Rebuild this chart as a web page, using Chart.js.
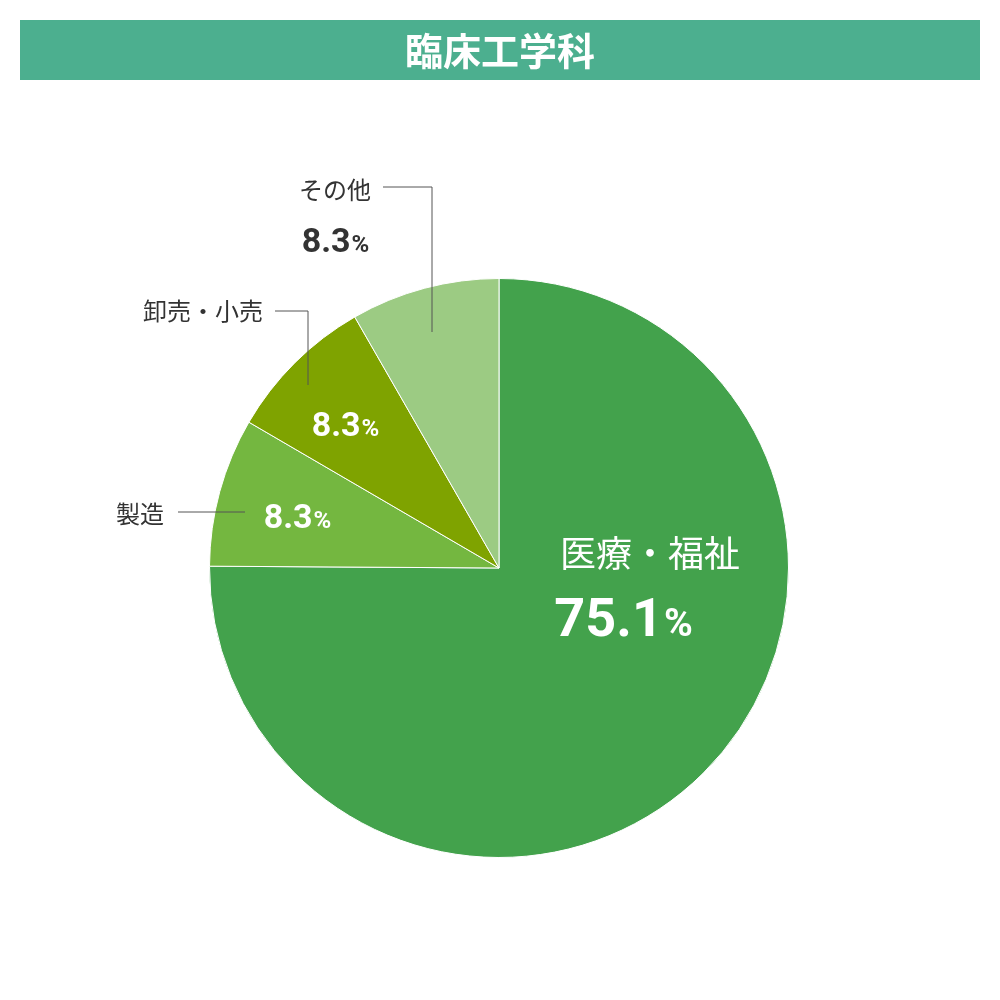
<!DOCTYPE html>
<html>
<head>
<meta charset="utf-8">
<script src="https://cdn.jsdelivr.net/npm/chart.js@4/dist/chart.umd.min.js"></script>
<style>
  body { margin: 0; background: #fff; }
</style>
</head>
<body>
<canvas id="c" width="1000" height="1000"></canvas>
<script>
const title = "臨床工学科"
const categories = ["医療・福祉", "製造", "卸売・小売", "その他"]
const values = [75.1, 8.3, 8.3, 8.3]
const colors = ["#43a24c", "#74b740", "#7fa300", "#9ccb83"]

const jp = '"Noto Sans CJK JP", sans-serif'

function pct(ctx, text, x, y, size, color) {
    ctx.fillStyle = color
    ctx.textAlign = "left"
    ctx.textBaseline = "alphabetic"
    ctx.font = "bold " + size + "px Roboto, sans-serif"
    const w = ctx.measureText(text).width
    ctx.font = "bold " + Math.round(size * 0.72) + "px Roboto, sans-serif"
    const pw = ctx.measureText("%").width
    const start = x - (w + pw) / 2
    ctx.font = "bold " + size + "px Roboto, sans-serif"
    ctx.fillText(text, start, y)
    ctx.font = "bold " + Math.round(size * 0.72) + "px Roboto, sans-serif"
    ctx.fillText("%", start + w + 1, y)
}

function label(ctx, text, x, y, size, color) {
    ctx.fillStyle = color
    ctx.font = size + "px " + jp
    ctx.textAlign = "center"
    ctx.textBaseline = "middle"
    ctx.fillText(text, x, y)
}

function line(ctx, pts) {
    ctx.strokeStyle = "#555"
    ctx.lineWidth = 1
    ctx.beginPath()
    ctx.moveTo(pts[0][0], pts[0][1])
    for (const p of pts.slice(1)) ctx.lineTo(p[0], p[1])
    ctx.stroke()
}

const decor = {
    id: "decor",
    afterDraw(chart) {
        const ctx = chart.ctx
        ctx.save()
        ctx.fillStyle = "#4caf8f"
        ctx.fillRect(20, 20, 960, 60)
        ctx.fillStyle = "#fff"
        ctx.font = "bold 38px " + jp
        ctx.textAlign = "center"
        ctx.textBaseline = "middle"
        ctx.fillText(title, 500, 51)

        const v = values.map(n => n.toFixed(1))
        label(ctx, categories[0], 650, 553, 36, "#fff")
        pct(ctx, v[0], 623, 636, 54, "#fff")

        label(ctx, categories[1], 140, 514, 24, "#333")
        line(ctx, [[178, 512], [245, 512]])
        pct(ctx, v[1], 297, 528, 34, "#fff")

        label(ctx, categories[2], 203, 311, 24, "#333")
        line(ctx, [[275, 311], [308, 311], [308, 385]])
        pct(ctx, v[2], 345, 436, 34, "#fff")

        label(ctx, categories[3], 335, 190, 24, "#333")
        line(ctx, [[383, 187], [432, 187], [432, 332]])
        pct(ctx, v[3], 335, 252, 34, "#333")
        ctx.restore()
    }
}

new Chart(document.getElementById("c"), {
    type: "pie",
    data: {
        labels: categories,
        datasets: [{
            data: values,
            backgroundColor: colors,
            borderColor: "#fff",
            borderWidth: 1
        }]
    },
    options: {
        responsive: false,
        devicePixelRatio: 1,
        animation: false,
        layout: { padding: { left: 209, right: 211, top: 278, bottom: 142 } },
        plugins: { legend: { display: false }, tooltip: { enabled: false } }
    },
    plugins: [decor]
})
</script>
</body>
</html>
